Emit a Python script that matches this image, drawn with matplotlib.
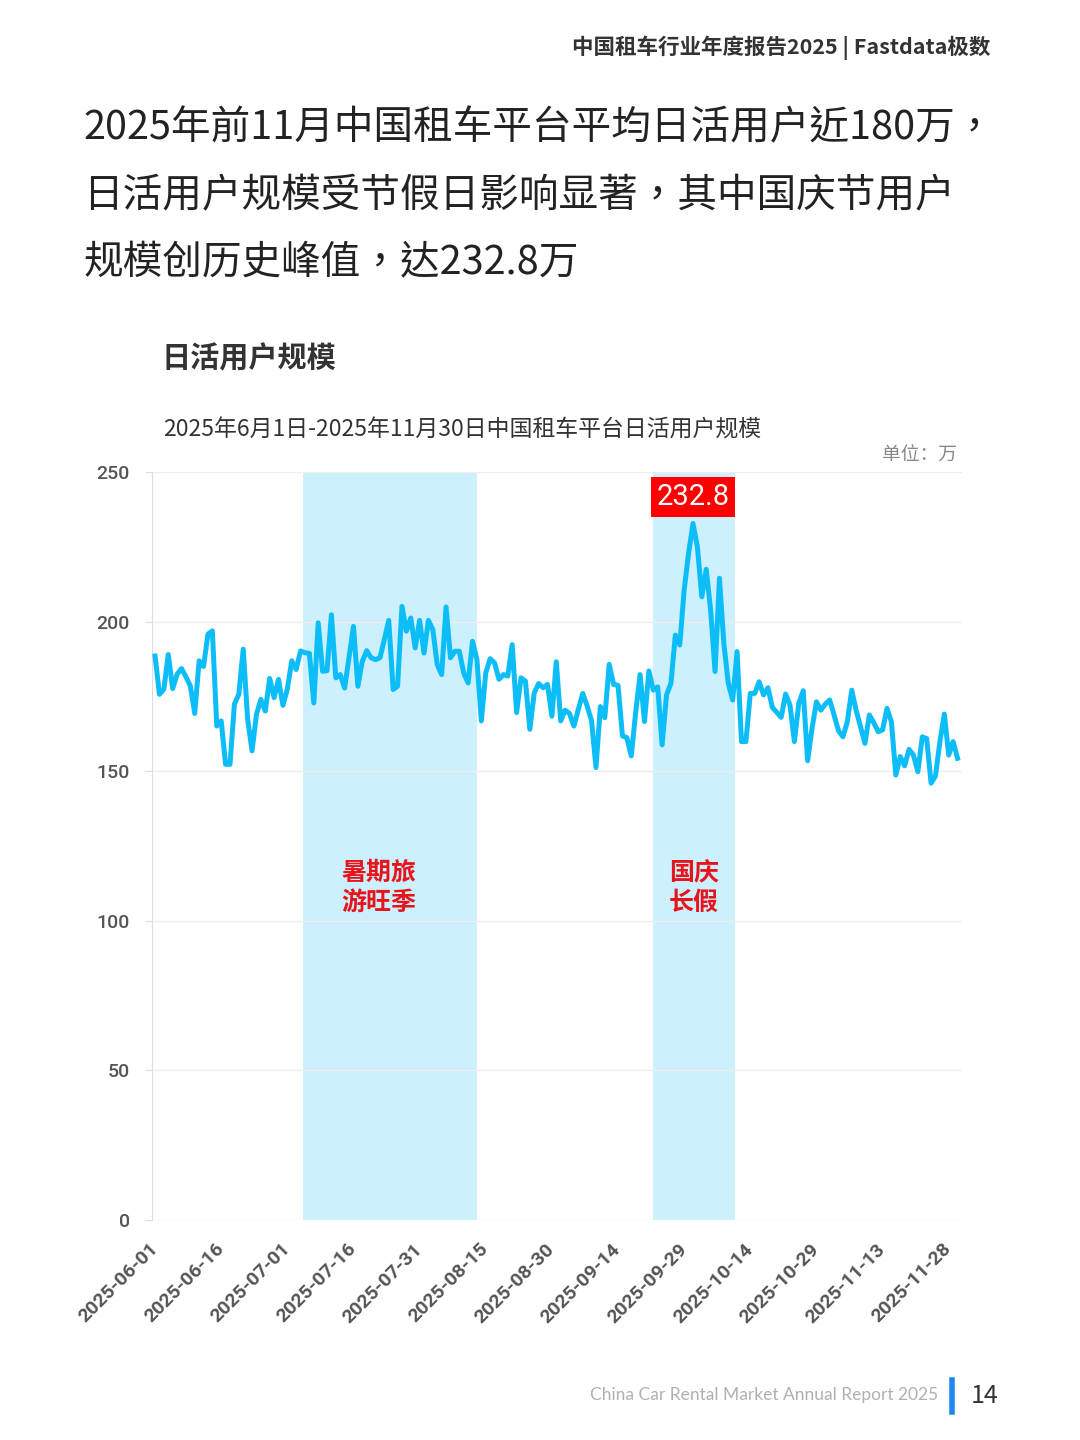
import matplotlib.pyplot as plt
import numpy as np
import pandas as pd

plt.rcParams['font.family'] = ['Noto Sans CJK SC', 'DejaVu Sans']

# daily active users, 2025-06-01 .. 2025-11-30 (unit: 10k)
start_date = '2025-06-01'
dau = [188.5, 175.7, 177.4, 189.0, 177.6, 182.4, 184.3, 181.6, 178.5, 169.3,
       186.9, 185.0, 195.8, 196.9, 165.1, 166.8, 152.3, 152.3, 172.4, 175.7,
       190.8, 167.4, 156.8, 169.0, 174.0, 170.1, 181.0, 174.6, 180.7, 172.0,
       177.4, 186.9, 184.0, 190.2, 189.6, 189.4, 172.8, 199.6, 183.4, 183.6,
       202.3, 181.2, 182.3, 177.8, 188.0, 198.4, 178.4, 186.7, 190.3, 187.9,
       187.3, 187.9, 194.0, 200.4, 177.3, 178.4, 205.1, 196.8, 201.2, 191.2,
       200.4, 189.5, 200.4, 197.3, 185.6, 182.3, 204.9, 187.9, 190.1, 190.1,
       182.8, 179.5, 193.4, 187.3, 166.8, 182.9, 187.6, 186.2, 180.7, 182.3,
       181.8, 192.3, 169.6, 181.2, 180.1, 164.0, 176.2, 179.3, 177.9, 179.0,
       168.4, 186.6, 166.8, 170.4, 169.3, 165.1, 170.7, 176.0, 171.8, 166.8,
       151.2, 171.6, 167.9, 185.7, 179.0, 178.7, 161.8, 161.2, 155.1, 169.6,
       182.3, 166.6, 183.5, 177.1, 178.2, 158.8, 175.5, 179.4, 195.5, 192.2,
       210.6, 222.8, 232.8, 225.0, 208.3, 217.5, 203.9, 183.3, 214.5, 192.7,
       179.4, 173.8, 190.0, 159.9, 159.9, 176.0, 176.0, 179.9, 175.5, 177.9,
       171.3, 169.7, 168.0, 175.8, 172.1, 159.9, 172.7, 176.9, 153.5, 164.3,
       173.2, 170.4, 172.4, 173.8, 168.8, 163.5, 161.5, 166.5, 177.1, 170.4,
       164.9, 159.3, 168.8, 166.2, 163.2, 163.8, 171.0, 166.5, 148.7, 154.9,
       151.8, 157.3, 155.4, 149.8, 161.5, 160.9, 146.0, 148.4, 159.9, 169.1,
       155.4, 159.9, 154.3]

# holiday periods shaded on the chart
spans = [('2025-07-04 12:00', '2025-08-13 00:00', '暑期旅\n游旺季'),
         ('2025-09-22 00:00', '2025-10-10 12:00', '国庆\n长假')]

dates = pd.date_range(start_date, periods=len(dau), freq='D')
x = np.arange(len(dau))
t0 = pd.Timestamp(start_date)

line_color = '#0DBDF8'
span_color = '#CCF0FD'
num_font = ['Roboto', 'DejaVu Sans']

fig = plt.figure(figsize=(10.8, 14.4), dpi=100)
ax = fig.add_axes([0.1407, 0.1528, 0.7500, 0.5194])

for s, e, label in spans:
    a = (pd.Timestamp(s) - t0) / pd.Timedelta(days=1)
    b = (pd.Timestamp(e) - t0) / pd.Timedelta(days=1)
    ax.axvspan(a, b, color=span_color, lw=0, zorder=0.2)
    ax.text((a + b) / 2 - (2.5 if len(label) > 6 else 0), 111, label,
            ha='center', va='center', color='#E8141B', fontsize=18,
            fontweight='bold', linespacing=1.35)

ax.plot(x, dau, color=line_color, lw=3.6, solid_joinstyle='round', zorder=3)

# peak label
ipk = int(np.argmax(dau))
ax.annotate(f'{dau[ipk]:.1f}', xy=(ipk, dau[ipk]), xytext=(0, 19),
            textcoords='offset points', ha='center', va='center',
            color='white', fontsize=21, family=num_font,
            bbox=dict(boxstyle='square,pad=0.2', fc='#FF0000', ec='none'),
            zorder=5)

ax.set_xlim(-0.7, 183.0)
ax.set_ylim(0, 250)
ax.set_yticks(np.arange(0, 251, 50))
ax.set_axisbelow(True)
ax.grid(axis='y', color='#EEEEEE', lw=1)
for side in ['top', 'right', 'bottom']:
    ax.spines[side].set_visible(False)
ax.spines['left'].set_color('#DDDDDD')
ax.tick_params(axis='y', length=5, color='#DDDDDD', pad=11, labelsize=14,
               labelcolor='#555555')
for lb in ax.get_yticklabels():
    lb.set_family(num_font)
    lb.set_fontweight('medium')

tick_idx = x[::15]
ax.set_xticks(tick_idx)
ax.set_xticklabels([dates[i].strftime('%Y-%m-%d') for i in tick_idx],
                   rotation=45, ha='right', va='center', rotation_mode='anchor',
                   family=num_font, fontweight='bold', fontsize=14,
                   color='#555555')
ax.tick_params(axis='x', length=0, pad=19)

# page texts
fig.text(0.917, 0.967, '中国租车行业年度报告2025 | Fastdata极数', ha='right',
         va='center', fontsize=15.5, fontweight='bold', color='#333333')
title = ['2025年前11月中国租车平台平均日活用户近180万，',
         '日活用户规模受节假日影响显著，其中国庆节用户',
         '规模创历史峰值，达232.8万']
for i, line in enumerate(title):
    fig.text(0.077, 1 - (128 + 67.5 * i) / 1440, line, ha='left', va='center',
             fontsize=28.5, color='#222222',
             family=['Noto Sans CJK TC', 'DejaVu Sans'])
fig.text(0.150, 1 - 358 / 1440, '日活用户规模', ha='left', va='center',
         fontsize=21, fontweight='bold', color='#333333')
fig.text(0.151, 1 - 430 / 1440,
         '2025年6月1日-2025年11月30日中国租车平台日活用户规模',
         ha='left', va='center', fontsize=16.5, color='#333333')
fig.text(0.886, 1 - 455 / 1440, '单位：万', ha='right', va='center',
         fontsize=13.5, color='#888888')

fig.text(0.869, 1 - 1395 / 1440, 'China Car Rental Market Annual Report 2025',
         ha='right', va='center', fontsize=12.5, color='#B0B0B0',
         family=['Lato', 'DejaVu Sans'])
fig.add_artist(plt.Line2D([0.8815, 0.8815], [1 - 1380 / 1440, 1 - 1412 / 1440],
                          color='#1E88F0', lw=4))
fig.text(0.899, 1 - 1396 / 1440, '14', ha='left', va='center', fontsize=18,
         color='#333333')

fig.savefig('out.png', dpi=100)
